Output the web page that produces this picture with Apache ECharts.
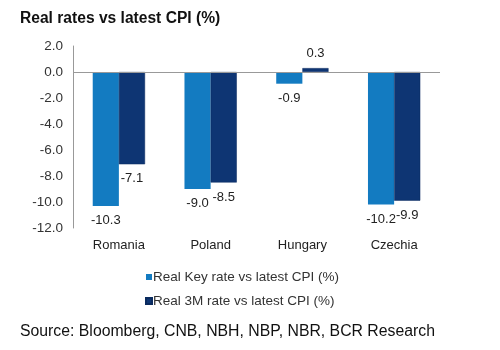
<!DOCTYPE html>
<html>
<head>
<meta charset="utf-8">
<script src="https://cdn.jsdelivr.net/npm/echarts@6/dist/echarts.min.js"></script>
<style>
  html, body { margin: 0; padding: 0; background: #fff; }
  #chart { width: 500px; height: 350px; }
</style>
</head>
<body>
<div id="chart"></div>
<script>
var countries = ['Romania', 'Poland', 'Hungary', 'Czechia'];
var keyRate = [-10.3, -9.0, -0.9, -10.2];
var rate3m = [-7.1, -8.5, 0.3, -9.9];
var seriesNames = ['Real Key rate vs latest CPI (%)', 'Real 3M rate vs latest CPI (%)'];

function labelPos (v) {
    return v < 0 ? 'bottom' : 'top';
}

function toData (arr) {
    var out = [];
    for (var i = 0; i < arr.length; i++) {
        out.push({ value: arr[i], label: { position: labelPos(arr[i]) } });
    }
    return out;
}

var chart = echarts.init(document.getElementById('chart'));
var font = 'Liberation Sans, Arial, sans-serif';
var option = {
    animation: false,
    title: [
        {
            text: 'Real rates vs latest CPI (%)',
            left: 15, top: 6,
            textStyle: { fontFamily: font, fontSize: 15.6, fontWeight: 'bold', color: '#111' }
        },
        {
            text: 'Source: Bloomberg, CNB, NBH, NBP, NBR, BCR Research',
            left: 15, top: 319,
            textStyle: { fontFamily: font, fontSize: 15.8, fontWeight: 'normal', color: '#111' }
        }
    ],
    legend: {
        orient: 'vertical',
        left: 140, top: 265,
        itemWidth: 6, itemHeight: 6, itemGap: 10,
        icon: 'rect',
        textStyle: { fontFamily: font, fontSize: 13.5, color: '#333', padding: [0, 0, 0, -4] },
        data: seriesNames
    },
    grid: { left: 73, right: 60, top: 46, bottom: 122 },
    xAxis: {
        type: 'category',
        data: countries,
        axisLine: { show: false },
        axisTick: { show: false },
        axisLabel: { fontFamily: font, fontSize: 13, color: '#222', margin: 11 }
    },
    yAxis: {
        type: 'value',
        min: -12, max: 2, interval: 2,
        axisLine: { show: true, lineStyle: { color: '#999' } },
        axisTick: { show: false },
        splitLine: { show: false },
        axisLabel: {
            fontFamily: font, fontSize: 13.5, color: '#333', margin: 10,
            formatter: function (v) { return v.toFixed(1); }
        }
    },
    series: [
        {
            name: seriesNames[0],
            type: 'bar',
            barGap: '0%',
            barCategoryGap: '43%',
            itemStyle: { color: '#137BC1' },
            label: {
                show: true, distance: 8,
                fontFamily: font, fontSize: 13, color: '#222',
                formatter: function (p) { return p.value.toFixed(1); }
            },
            markLine: {
                silent: true,
                symbol: 'none',
                label: { show: false },
                lineStyle: { color: '#999', type: 'solid', width: 1 },
                data: [{ yAxis: 0 }]
            },
            data: toData(keyRate)
        },
        {
            name: seriesNames[1],
            type: 'bar',
            itemStyle: { color: '#0E3573', borderColor: '#0A2A5E', borderWidth: 0.5 },
            label: {
                show: true, distance: 8,
                fontFamily: font, fontSize: 13, color: '#222',
                formatter: function (p) { return p.value.toFixed(1); }
            },
            data: toData(rate3m)
        }
    ]
};
chart.setOption(option);
</script>
</body>
</html>
